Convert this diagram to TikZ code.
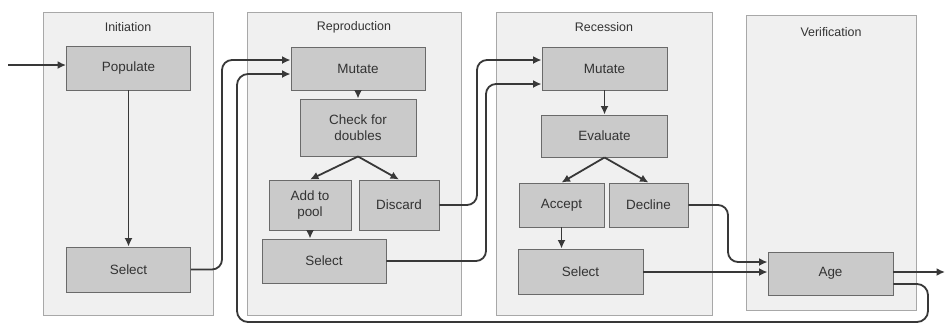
\documentclass[tikz,border=0pt]{standalone}
\usepackage{fontspec}
\setmainfont{Liberation Sans}
\usetikzlibrary{arrows.meta}

\definecolor{panelfill}{HTML}{F0F0F0}
\definecolor{panelline}{HTML}{A8A8A8}
\definecolor{boxfill}{HTML}{CACACA}
\definecolor{boxline}{HTML}{6A6A6A}
\definecolor{wire}{HTML}{383838}
\definecolor{ink}{HTML}{333333}

\begin{document}
\begin{tikzpicture}[x=1bp,y=-1bp,
  panel/.style={draw=panelline, fill=panelfill, line width=0.9bp, inner sep=0pt},
  stage/.style={text=ink, font=\fontsize{12.5}{14}\selectfont},
  box/.style={draw=boxline, fill=boxfill, line width=0.9bp, inner sep=1pt,
    text=ink, align=center, font=\fontsize{13.5}{16.5}\selectfont},
  flow/.style={draw=wire, line width=1.8bp, -{Latex[length=8.5bp,width=8bp]}},
  loop/.style={flow, rounded corners=10bp}
]
\useasboundingbox (0,0) rectangle (945,327);

% stage panels
\node[panel, minimum width=170bp, minimum height=303bp] (pinit) at (128,163.5) {};
\node[panel, minimum width=214bp, minimum height=303bp] (prep)  at (354,163.5) {};
\node[panel, minimum width=216bp, minimum height=303bp] (prec)  at (604,163.5) {};
\node[panel, minimum width=170bp, minimum height=295bp] (pver)  at (831,162.5) {};

\node[stage] (tinit) at (128,27) {Initiation};
\node[stage] (trep)  at (354,27) {Reproduction};
\node[stage] (trec)  at (604,27) {Recession};
\node[stage] (tver)  at (831,32) {Verification};

% Initiation
\node[box, minimum width=124bp, minimum height=44bp] (populate) at (128.5,68) {Populate};
\node[box, minimum width=124bp, minimum height=45bp] (sel1) at (128.5,269.5) {Select};

% Reproduction
\node[box, minimum width=134bp, minimum height=43bp] (mut1) at (358,68.5) {Mutate};
\node[box, minimum width=116bp, minimum height=57bp] (check) at (358,127.5) {Check for\\doubles};
\node[box, minimum width=82bp, minimum height=50bp] (addpool) at (310,205) {Add to\\pool};
\node[box, minimum width=80bp, minimum height=50bp] (discard) at (399,205) {Discard};
\node[box, minimum width=124bp, minimum height=44bp] (sel2) at (324,261) {Select};

% Recession
\node[box, minimum width=125bp, minimum height=43bp] (mut2) at (604.5,68.5) {Mutate};
\node[box, minimum width=126bp, minimum height=42bp] (eval) at (604.5,136) {Evaluate};
\node[box, minimum width=85bp, minimum height=44bp] (accept) at (561.5,205) {Accept};
\node[box, minimum width=79bp, minimum height=44bp] (decline) at (648.5,205) {Decline};
\node[box, minimum width=125bp, minimum height=45bp] (sel3) at (580.5,271.5) {Select};

% Verification
\node[box, minimum width=125bp, minimum height=43bp] (age) at (830.5,273.5) {Age};

% free ends
\coordinate (start) at (8,65);
\coordinate (finish) at (945,272);

% connectors inside the stages
\draw[flow] (start) -- (start -| populate.west);
\draw[flow] (populate.south) -- (sel1.north);
\draw[flow] (mut1.south) -- (check.north);
\draw[flow] (check.south) -- (addpool.north);
\draw[flow] (check.south) -- (discard.north);
\draw[flow] (addpool.south) -- (addpool.south |- sel2.north);
\draw[flow] (mut2.south) -- (eval.north);
\draw[flow] (eval.south) -- (accept.north);
\draw[flow] (eval.south) -- (decline.north);
\draw[flow] (accept.south) -- (accept.south |- sel3.north);

% connectors between the stages
\draw[loop] (sel1.east) -- (222,269.5) -- (222,60) -- (mut1.west |- 0,60);
\draw[loop] (discard.east) -- (477,205) -- (477,60) -- (mut2.west |- 0,60);
\draw[loop] (sel2.east) -- (486,261) -- (486,84) -- (mut2.west |- 0,84);
\draw[loop] (decline.east) -- (728,205) -- (728,262) -- (age.west |- 0,262);
\draw[flow] (sel3.east |- 0,272) -- (age.west |- 0,272);
\draw[flow] (age.east |- 0,272) -- (finish);
\draw[loop, rounded corners=11bp] (age.east |- 0,284) -- (928,284) -- (928,322)
  -- (237,322) -- (237,74) -- (mut1.west |- 0,74);
\end{tikzpicture}
\end{document}
